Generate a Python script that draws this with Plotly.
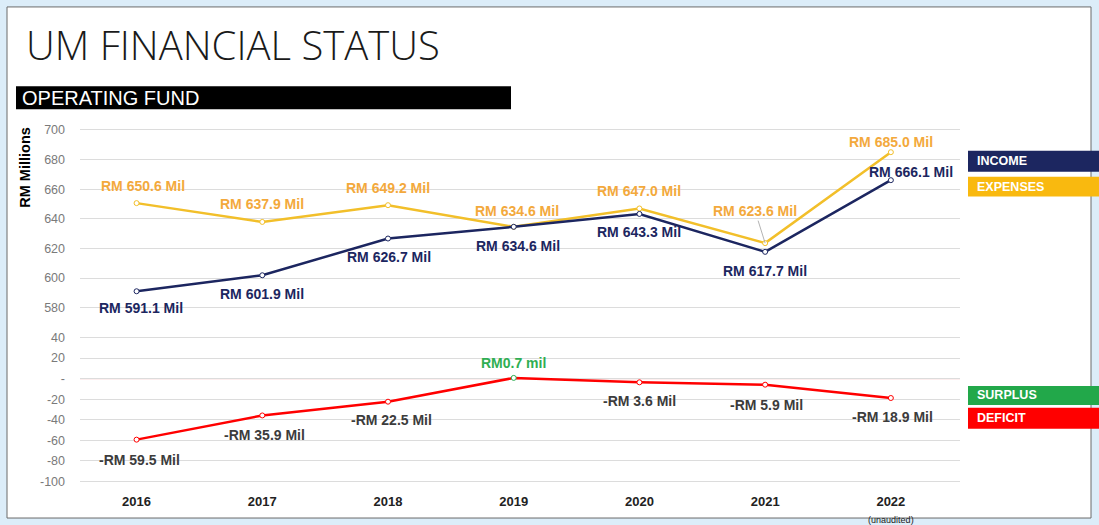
import plotly.graph_objects as go

# ---------------- data ----------------
years = ["2016", "2017", "2018", "2019", "2020", "2021", "2022"]
income = [591.1, 601.9, 626.7, 634.6, 643.3, 617.7, 666.1]
expenses = [650.6, 637.9, 649.2, 634.6, 647.0, 623.6, 685.0]
surplus_deficit = [-59.5, -35.9, -22.5, 0.7, -3.6, -5.9, -18.9]

income_labels = ["RM 591.1 Mil", "RM 601.9 Mil", "RM 626.7 Mil", "RM 634.6 Mil",
                 "RM 643.3 Mil", "RM 617.7 Mil", "RM 666.1 Mil"]
expense_labels = ["RM 650.6 Mil", "RM 637.9 Mil", "RM 649.2 Mil", "RM 634.6 Mil",
                  "RM 647.0 Mil", "RM 623.6 Mil", "RM 685.0 Mil"]
sd_labels = ["-RM 59.5 Mil", "-RM 35.9 Mil", "-RM 22.5 Mil", "RM0.7 mil",
             "-RM 3.6 Mil", "-RM 5.9 Mil", "-RM 18.9 Mil"]

top_ticks = [580, 600, 620, 640, 660, 680, 700]
bottom_ticks = [-100, -80, -60, -40, -20, 0, 20, 40]
bottom_ticktext = ["-100", "-80", "-60", "-40", "-20", "-", "20", "40"]
x_ticktext = ["<b>2016</b>", "<b>2017</b>", "<b>2018</b>", "<b>2019</b>", "<b>2020</b>",
              "<b>2021</b>", "<b>2022</b><br><span style='font-size:9px'>(unaudited)</span>"]

# ---------------- style ----------------
W, H = 1099, 525
NAVY = "#1c2660"
GOLD_LINE = "#f2bf2a"
GOLD_TEXT = "#f3a93c"
RED = "#ff0000"
GREEN = "#2fae52"
GRID = "#dcdcdc"
FONT = "Arial, Liberation Sans, sans-serif"
LAB_SIZE = 14

def px_x(p):
    return p / W

def px_y(p):
    return 1 - p / H

fig = go.Figure()

fig.add_trace(go.Scatter(
    x=years, y=expenses, mode="lines+markers", xaxis="x", yaxis="y",
    line=dict(color=GOLD_LINE, width=2.5),
    marker=dict(symbol="circle", size=5, color="white", line=dict(color=GOLD_LINE, width=1)),
    showlegend=False, hoverinfo="skip"))
fig.add_trace(go.Scatter(
    x=years, y=income, mode="lines+markers", xaxis="x", yaxis="y",
    line=dict(color=NAVY, width=2.5),
    marker=dict(symbol="circle", size=5, color="white", line=dict(color=NAVY, width=1)),
    showlegend=False, hoverinfo="skip"))
sd_marker_colors = [GREEN if v > 0 else RED for v in surplus_deficit]
fig.add_trace(go.Scatter(
    x=years, y=surplus_deficit, mode="lines+markers", xaxis="x2", yaxis="y2",
    line=dict(color=RED, width=2.5),
    marker=dict(symbol="circle", size=5, color="white", line=dict(color=sd_marker_colors, width=1)),
    showlegend=False, hoverinfo="skip"))

# label offsets (pixels): (xshift, yshift)
exp_off = [(6, 17), (0, 18), (0, 17), (3, 16), (0, 17), None, (0, 10)]
inc_off = [(4, -17), (0, -19), (1, -18), (4, -19), (0, -18), (0, -19), (20, 8)]
sd_off = [(3, -20), (2, -20), (3, -18), (0, 15), (0, -19), (1, -20), (2, -19)]

ann = []
for i, yr in enumerate(years):
    xi = years.index(yr)
    o = exp_off[i]
    if o is None:
        ann.append(dict(x=xi, y=expenses[i], xref="x", yref="y", text="<b>" + expense_labels[i] + "</b>",
                        showarrow=True, arrowhead=0, arrowwidth=0.8, arrowcolor="#a0a0a0",
                        ax=-10, ay=-32, font=dict(family=FONT, size=LAB_SIZE, color=GOLD_TEXT)))
    else:
        ann.append(dict(x=xi, y=expenses[i], xref="x", yref="y", text="<b>" + expense_labels[i] + "</b>",
                        showarrow=False, xshift=o[0], yshift=o[1],
                        font=dict(family=FONT, size=LAB_SIZE, color=GOLD_TEXT)))
    o = inc_off[i]
    ann.append(dict(x=xi, y=income[i], xref="x", yref="y", text="<b>" + income_labels[i] + "</b>",
                    showarrow=False, xshift=o[0], yshift=o[1],
                    font=dict(family=FONT, size=LAB_SIZE, color=NAVY)))
    o = sd_off[i]
    col = GREEN if surplus_deficit[i] > 0 else "#3c3c3c"
    ann.append(dict(x=xi, y=surplus_deficit[i], xref="x2", yref="y2", text="<b>" + sd_labels[i] + "</b>",
                    showarrow=False, xshift=o[0], yshift=o[1],
                    font=dict(family=FONT, size=LAB_SIZE, color=col)))

# title, header bar text, axis title
ann.append(dict(x=px_x(24), y=px_y(45), xref="paper", yref="paper", xanchor="left", yanchor="middle",
                text="UM FINANCIAL STATUS", showarrow=False,
                font=dict(family="Open Sans, sans-serif", size=40, color="#1a1a1a", weight=300)))
ann.append(dict(x=px_x(20), y=px_y(98.5), xref="paper", yref="paper", xanchor="left", yanchor="middle",
                text="OPERATING FUND", showarrow=False,
                font=dict(family=FONT, size=20, color="white")))
ann.append(dict(x=px_x(25), y=px_y(169), xref="paper", yref="paper", xanchor="center", yanchor="middle",
                text="<b>RM Millions</b>", textangle=-90, showarrow=False,
                font=dict(family=FONT, size=14.5, color="black")))

# legend boxes
legend_items = [("INCOME", NAVY, 152, 173), ("EXPENSES", "#f9b90f", 178, 198),
                ("SURPLUS", "#22a84a", 389, 408), ("DEFICIT", RED, 411, 432)]
shapes = []
shapes.append(dict(type="rect", xref="paper", yref="paper", x0=px_x(7), x1=px_x(1091),
                   y0=px_y(522), y1=px_y(7), fillcolor="white", line=dict(color="#6b6b6b", width=1),
                   layer="below"))
shapes.append(dict(type="rect", xref="paper", yref="paper", x0=px_x(16), x1=px_x(511),
                   y0=px_y(110), y1=px_y(87), fillcolor="black", line=dict(width=0), layer="below"))
for name, col, t, b in legend_items:
    shapes.append(dict(type="rect", xref="paper", yref="paper", x0=px_x(968), x1=px_x(1099),
                       y0=px_y(b), y1=px_y(t), fillcolor=col, line=dict(width=0), layer="above"))
    ann.append(dict(x=px_x(975), y=px_y((t + b) / 2), xref="paper", yref="paper", xanchor="left",
                    yanchor="middle", text="<b>" + name + "</b>", showarrow=False,
                    font=dict(family=FONT, size=12.5, color="white")))

shapes.append(dict(type="line", xref="x2 domain", yref="y2", x0=0, x1=1, y0=0, y1=0,
                   line=dict(color="#f07b7b", width=1), layer="below"))

xdom = [px_x(80), px_x(960)]
xrange = [-0.45, 6.55]
TICK_FONT = dict(family=FONT, size=12.5, color="#7a7a7a")

fig.update_layout(
    width=W, height=H,
    margin=dict(l=0, r=0, t=0, b=0),
    paper_bgcolor="#dcedf9",
    plot_bgcolor="rgba(0,0,0,0)",
    shapes=shapes,
    annotations=ann,
    xaxis=dict(domain=xdom, type="category", range=xrange, showticklabels=False,
               showgrid=False, zeroline=False, showline=False, anchor="y", fixedrange=True),
    yaxis=dict(domain=[px_y(322), px_y(119)], range=[572, 708], tickvals=top_ticks,
               showgrid=True, gridcolor=GRID, gridwidth=1, zeroline=False, showline=False,
               tickfont=TICK_FONT, ticklabelstandoff=14, anchor="x"),
    xaxis2=dict(domain=xdom, type="category", range=xrange, tickvals=years, ticktext=x_ticktext,
                showgrid=False, zeroline=False, showline=False, anchor="y2",
                tickfont=dict(family=FONT, size=13, color="#222222"), ticklabelstandoff=7),
    yaxis2=dict(domain=[px_y(489), px_y(334)], range=[-104, 46], tickvals=bottom_ticks,
                ticktext=bottom_ticktext, showgrid=True, gridcolor=GRID, gridwidth=1,
                zeroline=False, showline=False,
                tickfont=TICK_FONT, ticklabelstandoff=14, anchor="x2"),
)

fig.write_html("out.html", config={"displayModeBar": False},
               post_script="document.body.style.margin='0';document.body.style.overflow='hidden';")
